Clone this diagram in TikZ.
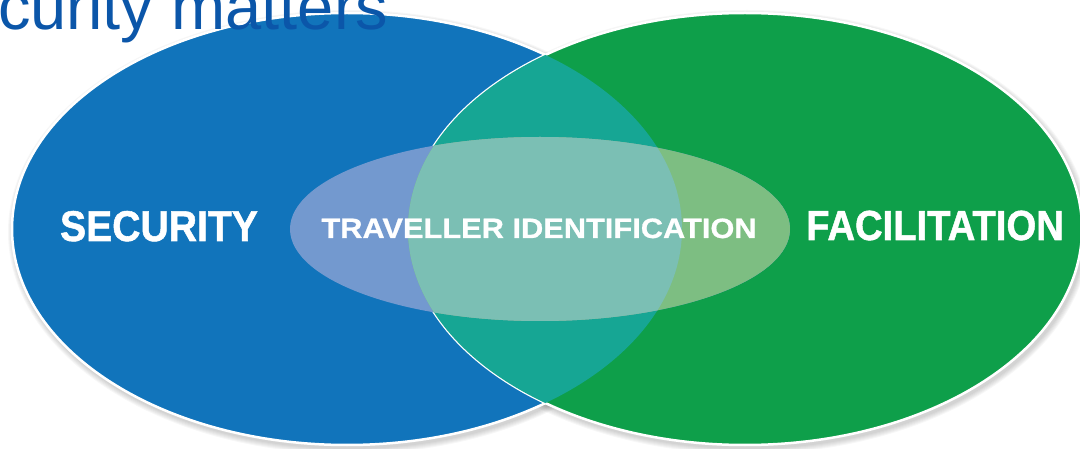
\documentclass[tikz,border=0pt]{standalone}
\usepackage{fontspec}
\setmainfont{Liberation Sans}
\newfontfamily\labelfont[FakeStretch=0.91,UprightFont={* Bold},FakeBold=1.2]{Liberation Sans}
\newfontfamily\widefont[FakeStretch=1.1,UprightFont={* Bold},FakeBold=0.8]{Liberation Sans}
\definecolor{secblue}{HTML}{1174BB}
\definecolor{facgreen}{HTML}{0E9F4A}
\definecolor{overlap}{HTML}{16A694}
\definecolor{idblue}{HTML}{7399CF}
\definecolor{idteal}{HTML}{7BBFB4}
\definecolor{idgreen}{HTML}{7DBE82}
\definecolor{titleblue}{HTML}{0B56A9}

\begin{document}
\begin{tikzpicture}[x=1pt,y=-1pt,
    ring/.style={draw=white,line width=2.5pt},
    word/.style={text=white,inner sep=0pt,anchor=base}]
    \useasboundingbox (0,0) rectangle (1080,449);
    \clip (0,0) rectangle (1080,449);
    % soft shadows under both rings
    \foreach \r in {1,...,6}{
      \fill[black,opacity=0.03] (349,232) ellipse ({335pt+\r pt} and {216pt+\r pt});
      \fill[black,opacity=0.03] (747,232) ellipse ({337pt+\r pt} and {216pt+\r pt});
    }
    \fill[secblue] (347,229) ellipse (335pt and 216pt);
    \draw[ring] (347,229) ellipse (335pt and 216pt);
    \fill[facgreen] (745,229) ellipse (337pt and 216pt);
    \draw[ring] (745,229) ellipse (337pt and 216pt);
    \begin{scope}
      \clip (347,229) ellipse (335pt and 216pt);
      \fill[overlap] (745,229) ellipse (337pt and 216pt);
    \end{scope}
    % inner ellipse, three tints
    \fill[idblue] (540,229) ellipse (250pt and 92pt);
    \begin{scope}
      \clip (745,229) ellipse (337pt and 216pt);
      \fill[idgreen] (540,229) ellipse (250pt and 92pt);
      \clip (347,229) ellipse (335pt and 216pt);
      \fill[idteal] (540,229) ellipse (250pt and 92pt);
    \end{scope}
    \node[word,font=\labelfont\fontsize{43}{43}\selectfont] (security) at (159,241) {SECURITY};
    \node[word,font=\labelfont\fontsize{42}{42}\selectfont] (facil) at (935,240) {FACILITATION};
    \node[word,font=\widefont\fontsize{28}{28}\selectfont] (trav) at (539,238) {TRAVELLER IDENTIFICATION};
    \node[anchor=base west,inner sep=0pt,text=titleblue,font=\fontsize{65}{65}\selectfont] (title) at (-2,30) {curity matters};
\end{tikzpicture}
\end{document}
